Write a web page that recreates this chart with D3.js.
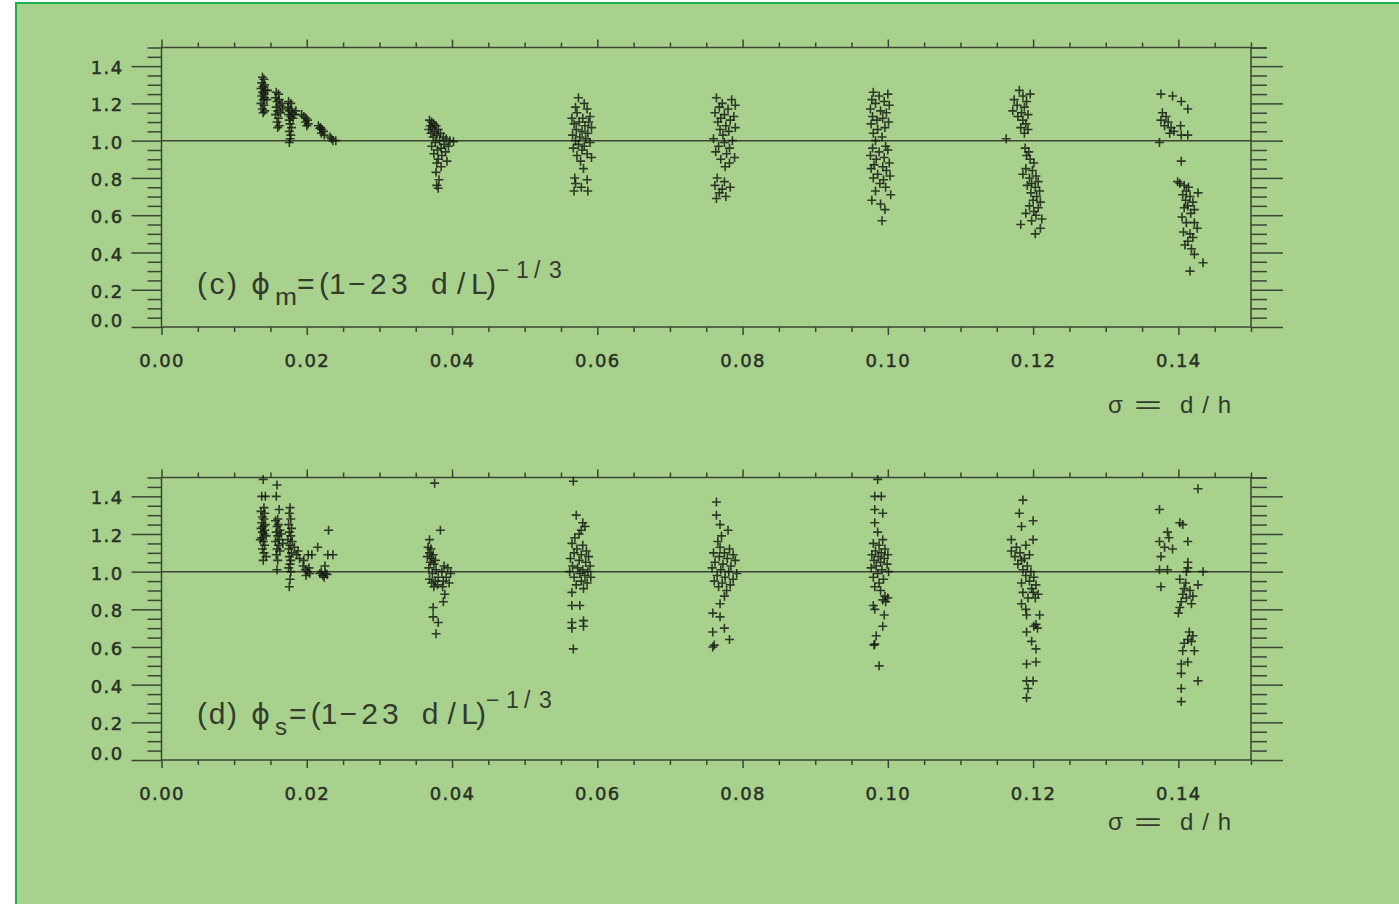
<!DOCTYPE html>
<html>
<head>
<meta charset="utf-8">
<script src="https://cdn.jsdelivr.net/npm/d3@7"></script>
<style>
  body { margin: 0; background: #ffffff; }
  svg { display: block; }
</style>
</head>
<body>
<svg id="fig" width="1399" height="904"></svg>
<script>
// ---- axis ticks ----
const xMajorTicks = [0.00, 0.02, 0.04, 0.06, 0.08, 0.10, 0.12, 0.14];
const yMajorTicks = [0.0, 0.2, 0.4, 0.6, 0.8, 1.0, 1.2, 1.4];
const xDomain = [0, 0.15];
const yDomain = [0, 1.5];
const xMinorStep = 0.005;
const yMinorStep = 0.05;
const referenceLevel = 1.0;

// ---- (c) phi_m : [sigma, phi] per run ----
const phiM_s014 = [[0.0139,1.34],[0.0141,1.33],[0.0138,1.31],[0.0142,1.30],[0.0140,1.29],[0.0137,1.28],[0.0143,1.27],[0.0139,1.26],[0.0141,1.25],[0.0138,1.24],[0.0142,1.23],[0.0140,1.22],[0.0137,1.20],[0.0141,1.19],[0.0139,1.17],[0.0142,1.16],[0.0140,1.15],[0.0145,1.22],[0.0146,1.27]];
const phiM_s016 = [[0.0158,1.26],[0.0161,1.25],[0.0157,1.23],[0.0162,1.22],[0.0159,1.21],[0.0163,1.19],[0.0158,1.18],[0.0160,1.16],[0.0164,1.15],[0.0157,1.14],[0.0161,1.12],[0.0159,1.10],[0.0162,1.08],[0.0160,1.07],[0.0166,1.20],[0.0167,1.17]];
const phiM_s018 = [[0.0175,1.21],[0.0178,1.20],[0.0174,1.18],[0.0179,1.17],[0.0176,1.16],[0.0180,1.15],[0.0175,1.14],[0.0178,1.13],[0.0181,1.12],[0.0176,1.11],[0.0177,1.09],[0.0179,1.07],[0.0176,1.05],[0.0178,1.03],[0.0177,1.01],[0.0176,0.99],[0.0183,1.14],[0.0185,1.16]];
const phiM_s020 = [[0.0193,1.14],[0.0196,1.13],[0.0199,1.12],[0.0201,1.11],[0.0198,1.10],[0.0202,1.09],[0.0200,1.08]];
const phiM_s022 = [[0.0216,1.08],[0.0219,1.07],[0.0221,1.06],[0.0223,1.05],[0.0220,1.04],[0.0224,1.03],[0.0218,1.065],[0.0232,1.02],[0.0236,1.00],[0.0240,1.00],[0.0234,1.01]];
const phiM_s038 = [[0.0369,1.11],[0.0372,1.10],[0.0375,1.09],[0.0370,1.08],[0.0378,1.08],[0.0373,1.07],[0.0381,1.06],[0.0368,1.06],[0.0376,1.05],[0.0384,1.04],[0.0371,1.04],[0.0379,1.03],[0.0388,1.02],[0.0374,1.02],[0.0392,1.01],[0.0383,1.00],[0.0397,1.00],[0.0402,0.995],[0.0377,0.99],[0.0389,0.98],[0.0395,0.97],[0.0372,0.97],[0.0385,0.96],[0.0380,0.95],[0.0391,0.94],[0.0375,0.93],[0.0386,0.92],[0.0381,0.90],[0.0379,0.88],[0.0393,0.89],[0.0385,0.86],[0.0378,0.83],[0.0382,0.79],[0.0379,0.76],[0.0381,0.745]];
const phiM_s058 = [[0.0574,1.23],[0.0582,1.20],[0.0570,1.18],[0.0586,1.17],[0.0572,1.15],[0.0590,1.13],[0.0565,1.12],[0.0580,1.12],[0.0575,1.10],[0.0588,1.10],[0.0568,1.09],[0.0583,1.08],[0.0592,1.07],[0.0571,1.06],[0.0579,1.05],[0.0587,1.04],[0.0566,1.03],[0.0576,1.02],[0.0584,1.01],[0.0570,1.00],[0.0590,0.99],[0.0574,0.98],[0.0582,0.97],[0.0567,0.96],[0.0579,0.95],[0.0586,0.93],[0.0572,0.92],[0.0592,0.91],[0.0577,0.89],[0.0581,0.85],[0.0569,0.80],[0.0586,0.79],[0.0570,0.77],[0.0578,0.75],[0.0568,0.73],[0.0587,0.73]];
const phiM_s077 = [[0.0764,1.23],[0.0785,1.22],[0.0772,1.20],[0.0790,1.19],[0.0768,1.18],[0.0780,1.17],[0.0762,1.15],[0.0775,1.14],[0.0788,1.13],[0.0770,1.12],[0.0783,1.11],[0.0766,1.10],[0.0777,1.08],[0.0790,1.07],[0.0769,1.06],[0.0781,1.05],[0.0773,1.03],[0.0760,1.01],[0.0786,1.00],[0.0775,0.99],[0.0767,0.97],[0.0782,0.96],[0.0763,0.94],[0.0778,0.93],[0.0789,0.91],[0.0770,0.90],[0.0782,0.88],[0.0776,0.86],[0.0765,0.80],[0.0775,0.78],[0.0762,0.76],[0.0772,0.74],[0.0783,0.75],[0.0768,0.72],[0.0777,0.70],[0.0764,0.69]];
const phiM_s099 = [[0.0980,1.26],[0.1000,1.25],[0.0988,1.24],[0.0978,1.22],[0.0995,1.21],[0.0983,1.20],[0.1002,1.19],[0.0976,1.17],[0.0990,1.16],[0.0998,1.15],[0.0979,1.13],[0.0993,1.12],[0.0985,1.11],[0.1001,1.10],[0.0977,1.09],[0.0996,1.07],[0.0986,1.06],[0.0980,1.04],[0.0992,1.02],[0.0983,1.00],[0.0997,0.97],[0.0979,0.96],[0.1000,0.95],[0.0988,0.94],[0.0976,0.92],[0.0995,0.91],[0.0984,0.90],[0.1002,0.88],[0.0981,0.87],[0.0993,0.86],[0.0977,0.85],[0.0998,0.84],[0.0986,0.82],[0.1003,0.81],[0.0980,0.80],[0.0994,0.79],[0.0989,0.77],[0.0997,0.75],[0.0983,0.73],[0.1004,0.71],[0.0978,0.68],[0.0990,0.66],[0.0996,0.63],[0.0992,0.57]];
const phiM_s119 = [[0.1181,1.27],[0.1196,1.25],[0.1186,1.24],[0.1174,1.22],[0.1191,1.21],[0.1178,1.19],[0.1188,1.18],[0.1172,1.16],[0.1184,1.15],[0.1193,1.14],[0.1179,1.13],[0.1186,1.11],[0.1190,1.09],[0.1183,1.07],[0.1193,1.06],[0.1188,1.04],[0.1163,1.01],
  [0.1189,0.96],[0.1194,0.94],[0.1191,0.92],[0.1196,0.90],[0.1201,0.88],[0.1190,0.85],[0.1199,0.84],[0.1186,0.82],[0.1204,0.81],[0.1195,0.80],[0.1207,0.78],[0.1198,0.77],[0.1192,0.76],[0.1203,0.75],[0.1209,0.73],[0.1197,0.72],[0.1205,0.70],[0.1200,0.68],[0.1210,0.67],[0.1195,0.65],[0.1207,0.64],[0.1201,0.62],[0.1190,0.61],[0.1204,0.60],[0.1212,0.58],[0.1198,0.57],[0.1183,0.55],[0.1210,0.53],[0.1203,0.50]];
const phiM_s140 = [[0.1376,1.25],[0.1392,1.24],[0.1404,1.21],[0.1413,1.17],[0.1378,1.15],[0.1383,1.13],[0.1376,1.11],[0.1386,1.10],[0.1381,1.08],[0.1390,1.07],[0.1403,1.08],[0.1394,1.05],[0.1388,1.04],[0.1404,1.03],[0.1413,1.03],[0.1374,0.99],
  [0.1404,0.89],[0.1399,0.78],[0.1402,0.77],[0.1408,0.76],[0.1414,0.75],[0.1427,0.72],[0.1411,0.73],[0.1406,0.71],[0.1416,0.70],[0.1410,0.68],[0.1420,0.67],[0.1413,0.65],[0.1408,0.64],[0.1422,0.63],[0.1417,0.61],[0.1405,0.59],[0.1411,0.56],[0.1422,0.56],[0.1426,0.53],[0.1407,0.51],[0.1416,0.50],[0.1420,0.48],[0.1413,0.46],[0.1409,0.44],[0.1418,0.42],[0.1422,0.39],[0.1434,0.345],[0.1416,0.30]];

// ---- (d) phi_s : [sigma, phi] per run ----
const phiS_s014 = [[0.0140,1.49],[0.0138,1.40],[0.0143,1.40],[0.0141,1.34],[0.0137,1.32],[0.0142,1.31],[0.0139,1.29],[0.0141,1.28],[0.0138,1.26],[0.0143,1.25],[0.0140,1.24],[0.0137,1.23],[0.0142,1.22],[0.0139,1.21],[0.0141,1.20],[0.0144,1.19],[0.0138,1.18],[0.0140,1.16],[0.0136,1.17],[0.0142,1.14],[0.0139,1.12],[0.0141,1.10],[0.0144,1.08],[0.0140,1.06]];
const phiS_s016 = [[0.0159,1.46],[0.0158,1.40],[0.0162,1.33],[0.0160,1.28],[0.0157,1.27],[0.0161,1.25],[0.0159,1.24],[0.0163,1.22],[0.0158,1.21],[0.0160,1.19],[0.0162,1.17],[0.0157,1.16],[0.0161,1.14],[0.0159,1.12],[0.0163,1.11],[0.0158,1.09],[0.0160,1.06],[0.0159,1.01],[0.0165,1.20],[0.0167,1.15]];
const phiS_s018 = [[0.0177,1.34],[0.0176,1.31],[0.0178,1.28],[0.0175,1.25],[0.0179,1.23],[0.0176,1.21],[0.0178,1.19],[0.0174,1.17],[0.0180,1.16],[0.0177,1.14],[0.0175,1.12],[0.0179,1.10],[0.0176,1.08],[0.0178,1.06],[0.0177,1.04],[0.0175,1.02],[0.0178,1.00],[0.0177,0.96],[0.0176,0.92],[0.0183,1.13],[0.0188,1.11],[0.0190,1.07],[0.0186,1.09]];
const phiS_s020 = [[0.0195,1.03],[0.0198,1.01],[0.0201,1.00],[0.0204,0.99],[0.0199,0.98],[0.0203,1.02],[0.0202,1.09],[0.0207,1.09],[0.0196,1.06]];
const phiS_s022 = [[0.0218,0.99],[0.0222,0.98],[0.0226,0.99],[0.0224,0.97],[0.0220,1.00],[0.0228,0.985],[0.0230,1.22],[0.0215,1.13],[0.0236,1.09],[0.0229,1.09],[0.0225,1.03]];
const phiS_s038 = [[0.0376,1.47],[0.0384,1.22],[0.0369,1.17],[0.0367,1.13],[0.0371,1.12],[0.0369,1.10],[0.0374,1.09],[0.0366,1.08],[0.0372,1.07],[0.0377,1.06],[0.0370,1.05],[0.0375,1.04],[0.0389,1.03],[0.0394,1.02],[0.0368,1.02],[0.0378,1.01],[0.0386,1.00],[0.0398,0.99],[0.0373,0.99],[0.0381,0.97],[0.0392,0.97],[0.0369,0.96],[0.0377,0.95],[0.0388,0.95],[0.0372,0.94],[0.0380,0.93],[0.0396,0.94],[0.0375,0.92],[0.0387,0.92],[0.0390,0.88],[0.0388,0.84],[0.0374,0.81],[0.0374,0.76],[0.0381,0.73],[0.0378,0.67]];
const phiS_s058 = [[0.0567,1.48],[0.0571,1.30],[0.0580,1.26],[0.0583,1.24],[0.0578,1.22],[0.0575,1.20],[0.0569,1.18],[0.0565,1.15],[0.0580,1.14],[0.0572,1.12],[0.0585,1.11],[0.0568,1.10],[0.0578,1.09],[0.0588,1.08],[0.0563,1.07],[0.0575,1.06],[0.0584,1.05],[0.0590,1.03],[0.0566,1.03],[0.0573,1.02],[0.0580,1.01],[0.0587,1.00],[0.0562,1.00],[0.0576,0.99],[0.0583,0.98],[0.0591,0.97],[0.0568,0.97],[0.0578,0.95],[0.0586,0.94],[0.0571,0.93],[0.0581,0.91],[0.0565,0.89],[0.0565,0.82],[0.0576,0.82],[0.0565,0.73],[0.0581,0.74],[0.0565,0.70],[0.0581,0.71],[0.0567,0.59]];
const phiS_s077 = [[0.0764,1.37],[0.0764,1.30],[0.0769,1.25],[0.0780,1.22],[0.0771,1.19],[0.0766,1.16],[0.0769,1.13],[0.0782,1.12],[0.0760,1.10],[0.0775,1.10],[0.0787,1.09],[0.0768,1.08],[0.0779,1.07],[0.0790,1.06],[0.0762,1.05],[0.0773,1.04],[0.0784,1.03],[0.0758,1.02],[0.0770,1.01],[0.0781,1.00],[0.0792,0.99],[0.0765,0.98],[0.0776,0.97],[0.0787,0.96],[0.0761,0.95],[0.0772,0.94],[0.0783,0.93],[0.0767,0.92],[0.0778,0.90],[0.0775,0.87],[0.0769,0.83],[0.0759,0.78],[0.0769,0.76],[0.0775,0.70],[0.0759,0.68],[0.0782,0.64],[0.0759,0.60],[0.0761,0.61]];
const phiS_s099 = [[0.0986,1.49],[0.0982,1.40],[0.0991,1.40],[0.0982,1.33],[0.0993,1.31],[0.0982,1.26],[0.0986,1.21],[0.0993,1.17],[0.0980,1.15],[0.0988,1.14],[0.0996,1.12],[0.0983,1.11],[0.0991,1.10],[0.1000,1.09],[0.0978,1.09],[0.0987,1.08],[0.0995,1.07],[0.0981,1.06],[0.0990,1.05],[0.0999,1.04],[0.0984,1.03],[0.0977,1.02],[0.0992,1.01],[0.1001,1.00],[0.0986,0.99],[0.0980,0.97],[0.0994,0.96],[0.0988,0.94],[0.0982,0.92],[0.0990,0.90],[0.0996,0.87],[0.1000,0.86],[0.0993,0.85],[0.0997,0.84],[0.0980,0.82],[0.0982,0.80],[0.0995,0.77],[0.0993,0.71],[0.0984,0.66],[0.0981,0.61],[0.0982,0.615],[0.0988,0.50]];
const phiS_s119 = [[0.1186,1.38],[0.1181,1.31],[0.1200,1.27],[0.1184,1.24],[0.1170,1.17],[0.1200,1.17],[0.1177,1.13],[0.1190,1.14],[0.1170,1.11],[0.1182,1.10],[0.1195,1.09],[0.1175,1.08],[0.1188,1.07],[0.1184,1.06],[0.1179,1.04],[0.1192,1.03],[0.1186,1.01],[0.1197,1.00],[0.1190,0.98],[0.1201,0.97],[0.1195,0.95],[0.1184,0.94],[0.1204,0.93],[0.1198,0.91],[0.1186,0.89],[0.1200,0.89],[0.1207,0.88],[0.1203,0.86],[0.1193,0.86],[0.1184,0.83],[0.1190,0.80],[0.1191,0.77],[0.1209,0.77],[0.1204,0.72],[0.1201,0.71],[0.1206,0.70],[0.1191,0.68],[0.1198,0.63],[0.1204,0.59],[0.1191,0.51],[0.1204,0.52],[0.1191,0.42],[0.1200,0.42],[0.1193,0.38],[0.1191,0.33]];
const phiS_s140 = [[0.1427,1.44],[0.1374,1.33],[0.1402,1.26],[0.1406,1.25],[0.1385,1.21],[0.1387,1.18],[0.1374,1.16],[0.1413,1.16],[0.1381,1.13],[0.1392,1.12],[0.1376,1.08],[0.1413,1.05],[0.1374,1.01],[0.1385,1.01],[0.1411,1.00],[0.1434,1.00],[0.1413,1.02],[0.1402,0.96],[0.1410,0.94],[0.1376,0.92],[0.1427,0.93],[0.1408,0.91],[0.1416,0.90],[0.1406,0.88],[0.1420,0.87],[0.1411,0.86],[0.1404,0.84],[0.1418,0.83],[0.1402,0.81],[0.1400,0.78],[0.1415,0.68],[0.1420,0.66],[0.1413,0.64],[0.1418,0.63],[0.1408,0.62],[0.1422,0.58],[0.1406,0.58],[0.1404,0.51],[0.1413,0.52],[0.1404,0.46],[0.1427,0.42],[0.1404,0.38],[0.1404,0.31]];

const panelC = [phiM_s014, phiM_s016, phiM_s018, phiM_s020, phiM_s022, phiM_s038, phiM_s058, phiM_s077, phiM_s099, phiM_s119, phiM_s140];
const panelD = [phiS_s014, phiS_s016, phiS_s018, phiS_s020, phiS_s022, phiS_s038, phiS_s058, phiS_s077, phiS_s099, phiS_s119, phiS_s140];

// ---- drawing ----
const svg = d3.select("#fig");
const INK = "#3a4533";
const MARK = "#121910";
const TEXT = "#2a3225";
const LABEL = "#323b2c";

// page panel
svg.append("rect").attr("x", 0).attr("y", 0).attr("width", 1399).attr("height", 904).attr("fill", "#ffffff");
svg.append("rect").attr("x", 16).attr("y", 3).attr("width", 1420).attr("height", 940)
  .attr("fill", "#a9d18e").attr("stroke", "#1eb04e").attr("stroke-width", 2);

const left = 161.5, right = 1251;
const x = d3.scaleLinear().domain(xDomain).range([left, right]);

const xMinor = d3.range(xDomain[0], xDomain[1] + 1e-9, xMinorStep).filter(v => !xMajorTicks.some(t => Math.abs(t - v) < 1e-9));
const yMinor = d3.range(yDomain[0], yDomain[1] + 1e-9, yMinorStep).filter(v => !yMajorTicks.some(t => Math.abs(t - v) < 1e-9));

const crossPath = "M-4.5,0H4.5M0,-4.5V4.5";

// per-glyph advance offsets for the formula text (stroke-font look)
const eqOffsets = [0, 22, 32, 51, 73, 94, 114, 134, 160, 174, 189];
const expOffsets = [0, 20, 38, 53];

function drawPanel(top, bottom, runs, tag, labelBaseline, sub) {
  const y = d3.scaleLinear().domain(yDomain).range([bottom, top]);
  const g = svg.append("g");

  const styleAxis = sel => {
    sel.select(".domain").remove();
    sel.selectAll("line").attr("stroke", INK).attr("stroke-width", 1.5);
    sel.selectAll("text").attr("fill", TEXT).attr("stroke", TEXT).attr("stroke-width", 0.5)
      .style("font-family", "'DejaVu Sans', sans-serif")
      .style("font-size", "18px").style("letter-spacing", "1.4px");
  };

  // left axis: majors with labels, minors bare
  g.append("g").attr("transform", `translate(${left},0)`)
    .call(d3.axisLeft(y).tickValues(yMajorTicks).tickSize(30).tickPadding(8).tickFormat(d3.format(".1f")))
    .call(styleAxis)
    .call(s => s.selectAll(".tick text").attr("dy", d => d === 0 ? "-0.05em" : "0.42em"));
  g.append("g").attr("transform", `translate(${left},0)`)
    .call(d3.axisLeft(y).tickValues(yMinor).tickSize(14).tickFormat(""))
    .call(styleAxis);

  // right axis
  g.append("g").attr("transform", `translate(${right},0)`)
    .call(d3.axisRight(y).tickValues(yMajorTicks).tickSize(32).tickFormat(""))
    .call(styleAxis);
  g.append("g").attr("transform", `translate(${right},0)`)
    .call(d3.axisRight(y).tickValues(yMinor.concat([yDomain[1]])).tickSize(16).tickFormat(""))
    .call(styleAxis);

  // bottom axis
  g.append("g").attr("transform", `translate(0,${bottom})`)
    .call(d3.axisBottom(x).tickValues(xMajorTicks).tickSize(8).tickPadding(19).tickFormat(d3.format(".2f")))
    .call(styleAxis);
  g.append("g").attr("transform", `translate(0,${bottom})`)
    .call(d3.axisBottom(x).tickValues(xMinor).tickSize(5).tickFormat(""))
    .call(styleAxis);

  // top axis
  g.append("g").attr("transform", `translate(0,${top})`)
    .call(d3.axisTop(x).tickValues(xMajorTicks).tickSize(8).tickFormat(""))
    .call(styleAxis);
  g.append("g").attr("transform", `translate(0,${top})`)
    .call(d3.axisTop(x).tickValues(xMinor).tickSize(5).tickFormat(""))
    .call(styleAxis);

  // frame
  g.append("rect").attr("x", left).attr("y", top).attr("width", right - left).attr("height", bottom - top)
    .attr("fill", "none").attr("stroke", INK).attr("stroke-width", 1.5);

  // reference line at phi = 1
  g.append("line").attr("x1", left).attr("x2", right)
    .attr("y1", y(referenceLevel)).attr("y2", y(referenceLevel))
    .attr("stroke", INK).attr("stroke-width", 1.5);

  // data crosses
  const marks = g.append("g");
  runs.forEach(run => {
    marks.selectAll(null).data(run).enter().append("path")
      .attr("d", crossPath)
      .attr("transform", d => `translate(${x(d[0])},${y(d[1])})`)
      .attr("stroke", MARK).attr("stroke-width", 1.6).attr("stroke-opacity", 0.82).attr("fill", "none");
  });

  // formula label
  const font = "'Liberation Sans', sans-serif";
  g.append("text").attr("x", 197).attr("y", labelBaseline).attr("fill", LABEL)
    .style("font-family", font).style("font-size", "30px")
    .attr("textLength", 40).attr("lengthAdjust", "spacing").text(tag);
  g.append("text").attr("x", 251).attr("y", labelBaseline).attr("fill", LABEL)
    .style("font-family", "'DejaVu Sans', sans-serif").style("font-size", "29px").text("\u03D5");
  g.append("text").attr("x", 275).attr("y", labelBaseline + 11).attr("fill", LABEL)
    .style("font-family", font).style("font-size", "24px")
    .attr("textLength", sub === "m" ? 22 : 12).attr("lengthAdjust", "spacingAndGlyphs").text(sub);
  const eqX = sub === "m" ? 297 : 289;
  const k = sub === "m" ? 1 : 0.99;
  g.append("text").attr("x", eqOffsets.map(o => (eqX + o * k).toFixed(1)).join(" "))
    .attr("y", labelBaseline).attr("fill", LABEL)
    .style("font-family", font).style("font-size", "30px").text("=(1\u221223 d/L)");
  const expX = eqX + 199 * k;
  g.append("text").attr("x", expOffsets.map(o => (expX + o).toFixed(1)).join(" "))
    .attr("y", labelBaseline - 16).attr("fill", LABEL)
    .style("font-family", font).style("font-size", "23px").text("\u22121/3");
}

function drawSigmaLabel(baseline) {
  const t = svg.append("g").attr("fill", LABEL).style("font-family", "'Liberation Sans', sans-serif").style("font-size", "24px");
  t.append("text").attr("x", 1108).attr("y", baseline).text("\u03C3");
  t.append("text").attr("x", 1134).attr("y", baseline).attr("textLength", 28).attr("lengthAdjust", "spacingAndGlyphs").text("=");
  t.append("text").attr("x", 1180).attr("y", baseline).attr("textLength", 51).attr("lengthAdjust", "spacing").text("d/h");
}

drawPanel(47.5, 327, panelC, "(c)", 294, "m");
drawSigmaLabel(413);
drawPanel(477.5, 760, panelD, "(d)", 724, "s");
drawSigmaLabel(830);
</script>
</body>
</html>
